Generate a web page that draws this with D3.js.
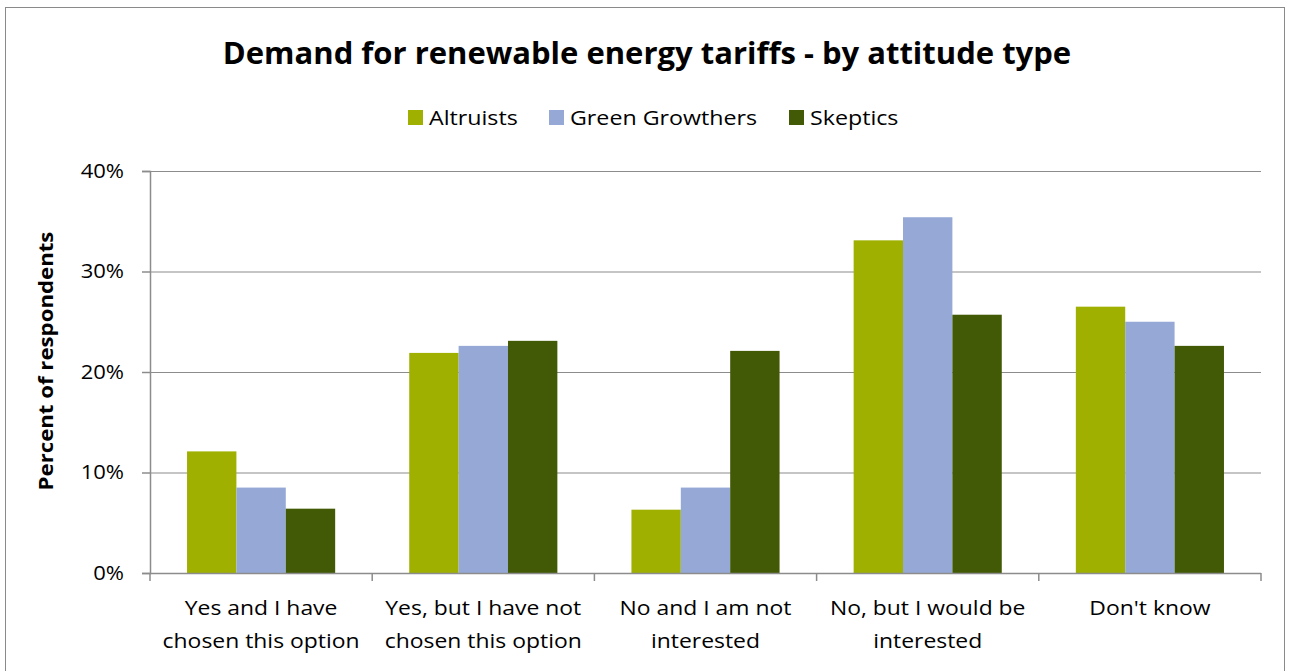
<!DOCTYPE html>
<html><head><meta charset="utf-8">
<script src="https://cdn.jsdelivr.net/npm/d3@7"></script>
<style>body{margin:0;background:#fff}svg{display:block}text{font-family:"Open Sans",sans-serif;fill:#000}</style>
</head><body><svg id="c" width="1290" height="671"></svg>
<script>
const categories = [["Yes and I have","chosen this option"],["Yes, but I have not","chosen this option"],["No and I am not","interested"],["No, but I would be","interested"],["Don't know"]];
const seriesNames = ["Altruists","Green Growthers","Skeptics"];
const altruists = [12.1, 21.9, 6.3, 33.1, 26.5];
const greenGrowthers = [8.5, 22.6, 8.5, 35.4, 25.0];
const skeptics = [6.4, 23.1, 22.1, 25.7, 22.6];
const colors = ["#9fb000","#96a9d6","#425a06"];
const yTicks = [0,10,20,30,40];

const series = [altruists, greenGrowthers, skeptics];
const svg = d3.select("#c");
function stretch(sel,k){ sel.each(function(){ const w=this.getComputedTextLength(); d3.select(this).attr("textLength",w*k).attr("lengthAdjust","spacingAndGlyphs"); }); }

svg.append("rect").attr("x",5.5).attr("y",7.5).attr("width",1279).attr("height",670).attr("fill","none").attr("stroke","#8a8a8a");

const L=150,R=1261,T=171,B=573;
const x = d3.scaleBand().domain(d3.range(categories.length)).range([L,R]).paddingInner(0).paddingOuter(0);
const y = d3.scaleLinear().domain([0,40]).range([B,T]);
const bw = x.bandwidth()/4.5;

svg.append("g").selectAll("line").data(yTicks.filter(d=>d>0)).join("line")
  .attr("x1",L).attr("x2",R).attr("y1",d=>y(d)+0.5).attr("y2",d=>y(d)+0.5).attr("stroke","#8c8c8c").attr("stroke-width",1.2);

series.forEach((s,si)=>{
  svg.append("g").selectAll("rect").data(s).join("rect")
    .attr("x",(d,i)=>x(i)+0.75*bw+si*bw).attr("width",bw)
    .attr("y",d=>y(d)).attr("height",d=>B-y(d)).attr("fill",colors[si]);
});

const ya = svg.append("g").attr("transform",`translate(${L},0)`).call(d3.axisLeft(y).tickValues(yTicks).tickFormat(d=>d+"%").tickSize(8).tickPadding(18));
ya.select(".domain").attr("stroke","#8c8c8c").attr("stroke-width",1.5);
ya.selectAll(".tick line").attr("stroke","#8c8c8c").attr("stroke-width",1.5);
ya.selectAll("text").style("font-size","20px").style("font-family","'Open Sans',sans-serif").attr("fill","#000");
stretch(ya.selectAll("text"),1.1);

const xa = svg.append("g").attr("transform",`translate(0,${B})`);
xa.append("line").attr("x1",L).attr("x2",R).attr("y1",0.5).attr("y2",0.5).attr("stroke","#8c8c8c").attr("stroke-width",1.5);
xa.selectAll("line.tk").data(d3.range(categories.length+1)).join("line").attr("class","tk")
  .attr("x1",i=>L+i*x.step()).attr("x2",i=>L+i*x.step()).attr("y1",0).attr("y2",8).attr("stroke","#8c8c8c").attr("stroke-width",1.5);
categories.forEach((c,i)=>{
  c.forEach((ln,j)=>xa.append("text").attr("class","cat").attr("text-anchor","middle").attr("font-size",20)
    .attr("x",x(i)+x.bandwidth()/2).attr("y",42+j*33).text(ln));
});
stretch(xa.selectAll("text.cat"),1.145);

const yt = svg.append("text").attr("transform","translate(53,361) rotate(-90)").attr("text-anchor","middle")
  .attr("font-size",20).attr("font-weight","bold").text("Percent of respondents");
stretch(yt,1.11);

svg.append("text").attr("x",647).attr("y",64).attr("text-anchor","middle").attr("font-size",31).attr("font-weight","bold")
  .text("Demand for renewable energy tariffs - by attitude type");

const legX = [408, 549, 789];
const lg = svg.append("g");
seriesNames.forEach((n,i)=>{
  lg.append("rect").attr("x",legX[i]).attr("y",110).attr("width",15).attr("height",15).attr("fill",colors[i]);
  lg.append("text").attr("x",legX[i]+21).attr("y",124.5).attr("font-size",20).text(n);
});
stretch(lg.selectAll("text"),1.16);
</script></body></html>
